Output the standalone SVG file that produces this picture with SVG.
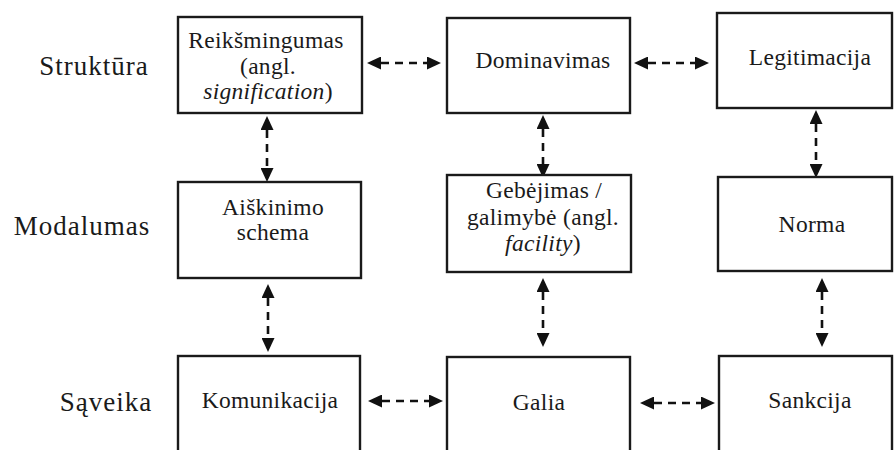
<svg xmlns="http://www.w3.org/2000/svg" width="895" height="450" viewBox="0 0 895 450">
<style>
.box{fill:#fff;stroke:#1a1a1a;stroke-width:2.4}
.t{font-family:"Liberation Serif","Times New Roman",serif;font-size:23.5px;letter-spacing:0.3px;fill:#1a1a1a;text-anchor:middle}
.lab{font-family:"Liberation Serif","Times New Roman",serif;font-size:27px;letter-spacing:1px;fill:#1a1a1a;text-anchor:middle}
.c{stroke:#111;stroke-width:2.6;stroke-dasharray:8 6;fill:none;marker-start:url(#ah);marker-end:url(#ah)}
</style>
<defs>
<marker id="ah" viewBox="0 0 14 13" refX="0" refY="6.5" markerWidth="14" markerHeight="13" markerUnits="userSpaceOnUse" orient="auto-start-reverse">
<path d="M0,0 L14,6.5 L0,13 z" fill="#111"/>
</marker>
</defs>
<rect width="895" height="450" fill="#fff"/>
<g id="labels">
<text class="lab" x="94" y="75">Struktūra</text>
<text class="lab" x="82" y="235">Modalumas</text>
<text class="lab" x="106" y="411">Sąveika</text>
</g>
<g id="connectors">
<line class="c" x1="381" y1="63" x2="427" y2="63"/>
<line class="c" x1="648" y1="63" x2="695" y2="63"/>
<line class="c" x1="382" y1="401" x2="429" y2="401"/>
<line class="c" x1="654" y1="403" x2="701" y2="403"/>
<line class="c" x1="267" y1="130" x2="267" y2="168"/>
<line class="c" x1="268" y1="298" x2="268" y2="338"/>
<line class="c" x1="543" y1="129" x2="543" y2="164"/>
<line class="c" x1="543" y1="292" x2="543" y2="333"/>
<line class="c" x1="816" y1="124" x2="816" y2="164"/>
<line class="c" x1="822" y1="292" x2="822" y2="333"/>
</g>
<g id="n-reiksmingumas">
<rect class="box" x="178" y="17" width="184" height="96"/>
<text class="t" x="266" y="48">Reikšmingumas</text>
<text class="t" x="268" y="74">(angl.</text>
<text class="t" x="268" y="99"><tspan font-style="italic">signification</tspan>)</text>
</g>
<g id="n-dominavimas">
<rect class="box" x="447" y="18" width="183" height="95"/>
<text class="t" x="543" y="68">Dominavimas</text>
</g>
<g id="n-legitimacija">
<rect class="box" x="717" y="13" width="175" height="95"/>
<text class="t" x="810" y="65">Legitimacija</text>
</g>
<g id="n-aiskinimo">
<rect class="box" x="178" y="182" width="183" height="96"/>
<text class="t" x="273" y="215">Aiškinimo</text>
<text class="t" x="273" y="240">schema</text>
</g>
<g id="n-gebejimas">
<rect class="box" x="447" y="175" width="184" height="97"/>
<text class="t" x="544" y="198">Gebėjimas /</text>
<text class="t" x="543" y="225">galimybė (angl.</text>
<text class="t" x="543" y="251"><tspan font-style="italic">facility</tspan>)</text>
</g>
<g id="n-norma">
<rect class="box" x="718" y="177" width="174" height="94"/>
<text class="t" x="812" y="232">Norma</text>
</g>
<g id="n-komunikacija">
<rect class="box" x="178" y="356" width="182" height="110"/>
<text class="t" x="270" y="408">Komunikacija</text>
</g>
<g id="n-galia">
<rect class="box" x="447" y="357" width="183" height="110"/>
<text class="t" x="539" y="410">Galia</text>
</g>
<g id="n-sankcija">
<rect class="box" x="719" y="356" width="173" height="110"/>
<text class="t" x="810" y="408">Sankcija</text>
</g>
</svg>
